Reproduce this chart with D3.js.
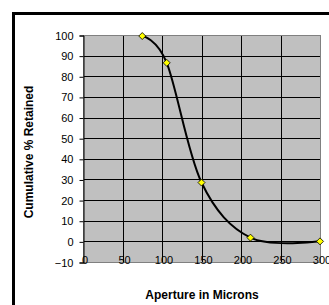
<!DOCTYPE html>
<html>
<head>
<meta charset="utf-8">
<script src="https://cdn.jsdelivr.net/npm/d3@7"></script>
<style>
  body { margin: 0; background: #fff; }
  text { font-family: "Liberation Sans", Arial, sans-serif; }
</style>
</head>
<body>
<div class="div-chart"></div>
<script>
// sieve data
const apertures = [75, 106, 150, 212, 300];
const retained = [99.5, 86.5, 28.5, 1.8, 0];
const xTicks = [0, 50, 100, 150, 200, 250, 300];
const yTicks = [-10, 0, 10, 20, 30, 40, 50, 60, 70, 80, 90, 100];

const data = apertures.map((a, i) => ({ x: a, y: retained[i] }));

const width = 329,
  height = 305;

const svg = d3
  .select(".div-chart")
  .append("svg")
  .attr("width", width)
  .attr("height", height);

// outer chart frame (runs off the right and bottom edges)
svg
  .append("rect")
  .attr("x", 13.5)
  .attr("y", 13.5)
  .attr("width", 340)
  .attr("height", 320)
  .attr("fill", "#fff")
  .attr("stroke", "#000")
  .attr("stroke-width", 3);

const plot = { left: 83, right: 320, top: 35, bottom: 262 };

const x = d3.scaleLinear().domain([0, 300]).range([plot.left, plot.right]);
const y = d3.scaleLinear().domain([-10, 100]).range([plot.bottom, plot.top]);

const plotG = svg.append("g").attr("id", "plot");

plotG
  .append("rect")
  .attr("x", plot.left)
  .attr("y", plot.top)
  .attr("width", plot.right - plot.left)
  .attr("height", plot.bottom - plot.top)
  .attr("fill", "#c0c0c0");

// grid
plotG
  .selectAll(".hgrid")
  .data(yTicks.filter((d) => d > -10 && d < 100))
  .join("line")
  .attr("x1", plot.left)
  .attr("x2", plot.right)
  .attr("y1", (d) => Math.round(y(d)) + 0.5)
  .attr("y2", (d) => Math.round(y(d)) + 0.5)
  .attr("stroke", "#000")
  .attr("stroke-width", 1);

plotG
  .selectAll(".vgrid")
  .data(xTicks.filter((d) => d > 0 && d < 300))
  .join("line")
  .attr("x1", (d) => Math.round(x(d)) + 0.5)
  .attr("x2", (d) => Math.round(x(d)) + 0.5)
  .attr("y1", plot.top)
  .attr("y2", plot.bottom)
  .attr("stroke", "#000")
  .attr("stroke-width", 1);

// plot border (grey)
plotG
  .append("rect")
  .attr("x", plot.left + 0.5)
  .attr("y", plot.top + 0.5)
  .attr("width", plot.right - plot.left)
  .attr("height", plot.bottom - plot.top)
  .attr("fill", "none")
  .attr("stroke", "#808080")
  .attr("stroke-width", 1);

// y axis
const yAxis = d3
  .axisLeft(y)
  .tickValues(yTicks)
  .tickSize(4)
  .tickPadding(6)
  .tickFormat(d3.format("d"));

const yAxisG = svg
  .append("g")
  .attr("transform", `translate(${plot.left + 0.5},0.5)`)
  .call(yAxis);
yAxisG.select(".domain").attr("stroke", "#000");
yAxisG.selectAll(".tick line").attr("stroke", "#000");
yAxisG
  .selectAll("text")
  .attr("font-size", 11)
  .attr("font-family", "Liberation Sans, Arial, sans-serif")
  .attr("fill", "#000");

// x tick labels sit right on the bottom border
svg
  .append("g")
  .selectAll("text")
  .data(xTicks)
  .join("text")
  .attr("x", (d) => x(d) + 2)
  .attr("y", 264)
  .attr("text-anchor", "middle")
  .attr("font-size", 11)
  .text((d) => d);

// smoothed line
const line = d3
  .line()
  .x((d) => x(d.x))
  .y((d) => y(d.y))
  .curve(d3.curveCardinal.tension(0));

plotG
  .append("path")
  .datum(data)
  .attr("d", line)
  .attr("fill", "none")
  .attr("stroke", "#000")
  .attr("stroke-width", 2);

// diamond markers
plotG
  .selectAll(".marker")
  .data(data)
  .join("path")
  .attr("class", "marker")
  .attr("transform", (d) => `translate(${x(d.x)},${y(d.y)})`)
  .attr("d", "M0,-3.5L3.5,0L0,3.5L-3.5,0Z")
  .attr("fill", "#ffff00")
  .attr("stroke", "#000")
  .attr("stroke-width", 0.8);

// axis titles
svg
  .append("text")
  .attr("x", 202)
  .attr("y", 299)
  .attr("text-anchor", "middle")
  .attr("font-size", 12)
  .attr("font-weight", "bold")
  .text("Aperture in Microns");

svg
  .append("text")
  .attr("transform", "translate(33,152) rotate(-90)")
  .attr("text-anchor", "middle")
  .attr("font-size", 12)
  .attr("font-weight", "bold")
  .text("Cumulative % Retained");
</script>
</body>
</html>
